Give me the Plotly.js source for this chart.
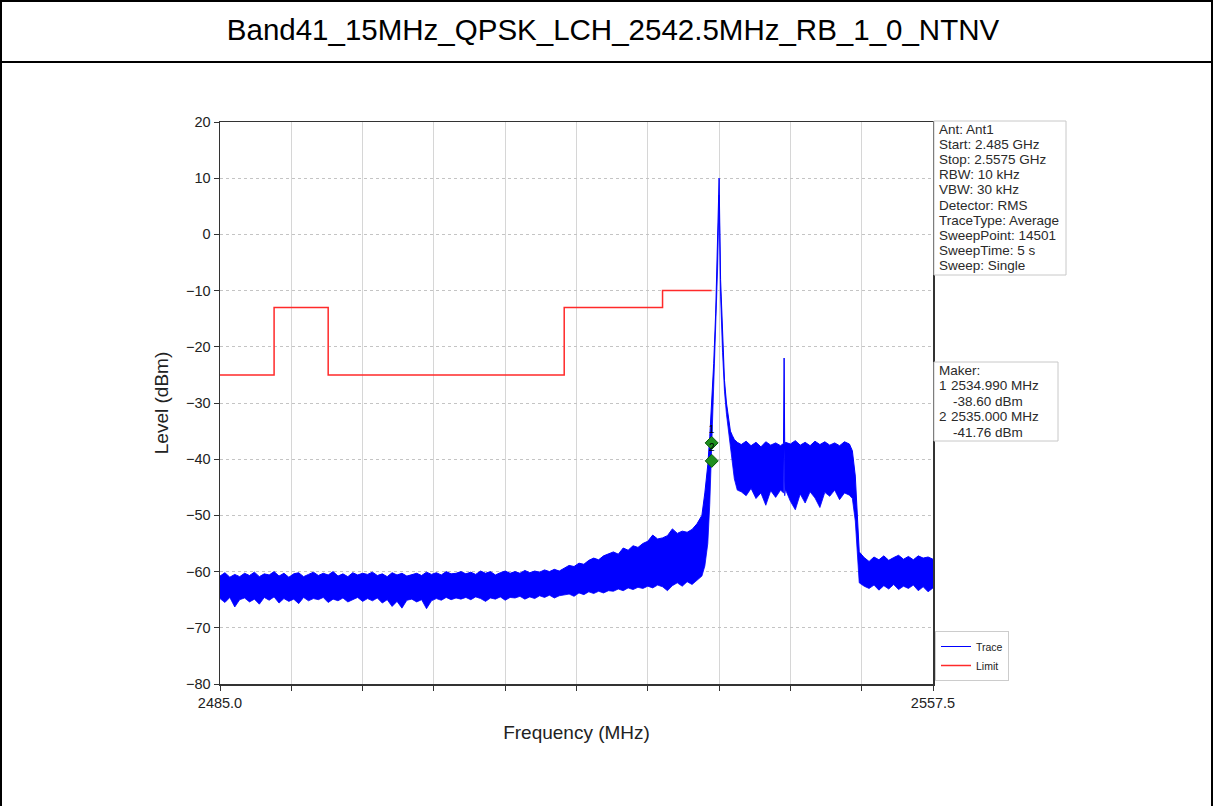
<!DOCTYPE html>
<html>
<head>
<meta charset="utf-8">
<script src="https://cdn.plot.ly/plotly-3.0.1.min.js"></script>
<style>
  html, body { margin: 0; padding: 0; background: #fff; }
  #frame { position: absolute; left: 0; top: 0; width: 1213px; height: 806px; box-sizing: border-box;
           border-left: 2px solid #000; border-right: 2px solid #000; border-top: 2px solid #000; }
  #bar { position: absolute; left: 0; top: 61px; width: 1213px; height: 0; border-top: 2px solid #000; }
  #chart { position: absolute; left: 0; top: 0; width: 1213px; height: 806px; }
</style>
</head>
<body>
<div id="frame"></div>
<div id="bar"></div>
<div id="chart"></div>
<script>
// ---------------- data ----------------
const chartTitle = "Band41_15MHz_QPSK_LCH_2542.5MHz_RB_1_0_NTNV";

// Spectrum trace, read as upper / lower envelope of the dense noise band (MHz, dBm)
const traceFreq = [
  2485.0,2485.5,2486.0,2486.5,2487.0,2487.5,2488.0,2488.5,2489.0,2489.5,
  2490.0,2490.5,2491.0,2491.5,2492.0,2492.5,2493.0,2493.5,2494.0,2494.5,
  2495.0,2495.5,2496.0,2496.5,2497.0,2497.5,2498.0,2498.5,2499.0,2499.5,
  2500.0,2500.5,2501.0,2501.5,2502.0,2502.5,2503.0,2503.5,2504.0,2504.5,
  2505.0,2505.5,2506.0,2506.5,2507.0,2507.5,2508.0,2508.5,2509.0,2509.5,
  2510.0,2510.5,2511.0,2511.5,2512.0,2512.5,2513.0,2513.5,2514.0,2514.5,
  2515.0,2515.5,2516.0,2516.5,2517.0,2517.5,2518.0,2518.5,2519.0,2519.5,
  2520.0,2520.5,2521.0,2521.5,2522.0,2522.5,2523.0,2523.5,2524.0,2524.5,
  2525.0,2525.5,2526.0,2526.5,2527.0,2527.5,2528.0,2528.5,2529.0,2529.5,
  2530.0,2530.5,2531.0,2531.5,2532.0,2532.5,2533.0,2533.5,2534.0,
  2534.3,2534.6,2534.8,2535.0,2535.2,2535.4,2535.6,2535.75,2535.9,2536.1,
  2536.3,2536.5,2536.7,2536.9,2537.1,2537.3,2537.6,
  2538.0,2538.5,2539.0,2539.5,2540.0,2540.5,2541.0,2541.5,2542.0,2542.3,
  2542.36,2542.42,2542.5,2543.0,2543.5,2544.0,2544.5,2545.0,2545.5,2546.0,
  2546.5,2547.0,2547.5,2548.0,2548.5,2549.0,2549.3,2549.6,2549.8,2550.0,
  2550.5,2551.0,2551.5,2552.0,2552.5,2553.0,2553.5,2554.0,2554.5,2555.0,
  2555.5,2556.0,2556.5,2557.0,2557.5
];
const traceUpper = [
  -60.8,-60.2,-61.0,-60.5,-60.9,-60.3,-60.7,-60.1,-60.9,-60.4,
  -60.6,-60.0,-60.8,-60.3,-61.0,-60.4,-60.2,-60.9,-60.5,-60.1,
  -60.7,-60.3,-60.6,-60.0,-60.8,-60.4,-60.9,-60.2,-60.6,-60.3,
  -60.5,-60.1,-60.7,-60.4,-60.9,-60.2,-60.6,-60.3,-60.8,-60.5,
  -60.3,-60.7,-60.1,-60.5,-60.2,-60.6,-60.0,-60.4,-60.3,-60.0,
  -60.4,-60.1,-60.5,-59.9,-60.3,-60.0,-60.6,-60.2,-59.9,-60.3,
  -60.0,-60.3,-59.8,-60.2,-59.9,-60.1,-59.7,-60.0,-59.6,-59.9,
  -59.4,-58.9,-59.1,-58.5,-58.7,-58.0,-57.6,-57.9,-57.2,-56.8,
  -56.5,-56.9,-55.8,-56.2,-55.4,-55.7,-55.0,-54.6,-53.5,-54.2,
  -54.0,-53.6,-52.4,-53.2,-52.8,-53.0,-52.5,-51.5,-50.0,
  -46.0,-41.0,-36.0,-30.0,-23.0,-14.0,-2.0,10.0,-8.0,-19.0,
  -26.0,-30.0,-33.0,-35.0,-35.8,-36.5,-37.0,
  -37.4,-36.8,-37.6,-37.0,-37.8,-36.9,-37.5,-37.1,-37.6,-37.2,
  -22.0,-37.4,-37.0,-37.3,-36.7,-37.5,-37.0,-37.6,-36.8,-37.4,
  -36.9,-37.5,-37.1,-37.6,-36.9,-37.3,-38.5,-43.0,-50.0,-56.5,
  -57.5,-58.2,-57.4,-57.9,-57.2,-58.0,-57.5,-57.1,-57.8,-57.3,
  -57.9,-57.2,-57.6,-57.4,-57.8
];
const traceLower = [
  -64.8,-65.5,-64.6,-66.3,-65.0,-64.7,-65.4,-64.9,-65.8,-64.6,
  -65.1,-64.5,-65.6,-64.8,-65.3,-64.9,-65.7,-64.6,-65.2,-64.8,
  -65.0,-64.6,-65.5,-64.9,-65.2,-64.7,-65.4,-65.0,-64.6,-65.3,
  -64.8,-65.2,-64.7,-65.6,-65.0,-66.2,-65.3,-66.5,-65.1,-64.9,
  -65.4,-65.0,-66.6,-65.2,-64.8,-65.1,-64.6,-65.0,-64.7,-64.9,
  -64.6,-65.0,-64.5,-64.8,-65.3,-64.7,-64.9,-64.5,-65.1,-64.6,
  -64.7,-64.4,-64.9,-64.5,-64.8,-64.3,-64.6,-64.2,-64.7,-64.3,
  -64.2,-64.0,-64.4,-63.8,-64.1,-63.6,-63.9,-63.5,-63.8,-63.4,
  -63.5,-63.1,-63.4,-62.9,-63.2,-62.8,-63.0,-62.6,-62.9,-62.4,
  -62.7,-63.4,-62.5,-62.0,-62.6,-61.8,-62.3,-61.5,-60.8,
  -59.0,-55.0,-48.0,-38.0,-27.0,-17.0,-6.0,7.0,-11.0,-21.0,
  -28.0,-32.0,-35.0,-38.0,-41.0,-43.5,-45.5,
  -45.8,-46.5,-45.2,-47.0,-46.0,-48.2,-45.6,-46.8,-45.5,-46.0,
  -38.0,-46.5,-45.4,-47.5,-49.0,-46.2,-47.8,-45.8,-46.9,-48.6,
  -45.9,-46.6,-45.5,-47.2,-46.0,-46.4,-47.0,-51.0,-56.0,-62.0,
  -62.6,-63.0,-62.4,-63.3,-62.5,-63.1,-62.3,-63.2,-62.6,-63.0,
  -62.4,-63.4,-62.7,-63.6,-62.9
];

// Limit line (step, value holds until next frequency)
const limitFreq  = [2485.0, 2490.5, 2496.0, 2520.0, 2530.0, 2535.0];
const limitLevel = [-25, -13, -25, -13, -10, -10];

// Markers as drawn
const markerFreq  = [2534.99, 2535.0];
const markerLevel = [-37.1, -40.3];
const markerLabel = ["1", "2"];

// Axis ticks
const xTickVals = [2485.0,2492.25,2499.5,2506.75,2514.0,2521.25,2528.5,2535.75,2543.0,2550.25,2557.5];
const xTickText = ["2485.0","","","","","","","","","","2557.5"];
const yTickVals = [20,10,0,-10,-20,-30,-40,-50,-60,-70,-80];

// Info text boxes
const infoLines = ["Ant: Ant1","Start: 2.485 GHz","Stop: 2.5575 GHz","RBW: 10 kHz","VBW: 30 kHz",
                   "Detector: RMS","TraceType: Average","SweepPoint: 14501","SweepTime: 5 s","Sweep: Single"];
const makerTitle = "Maker:";
const makerIndex = ["1", "2"];
const makerFreqText = ["2534.990 MHz", "2535.000 MHz"];
const makerLevelText = ["-38.60 dBm", "-41.76 dBm"];

// ---------------- layout helpers ----------------
const W = 1213, H = 806;
const L = 220, R = 933, T = 122, B = 684;
const px = x => (x - L) / (R - L);
const py = y => (B - y) / (B - T);
const FONT = "Liberation Sans, Arial, Helvetica, sans-serif";

const traces = [
  { x: traceFreq, y: traceUpper, type: "scatter", mode: "lines", name: "Trace",
    line: { color: "#0000ff", width: 1 }, hoverinfo: "skip" },
  { x: traceFreq, y: traceLower, type: "scatter", mode: "lines", name: "Trace",
    line: { color: "#0000ff", width: 0.8 }, fill: "tonexty", fillcolor: "#0000ff",
    showlegend: false, hoverinfo: "skip" },
  { x: limitFreq, y: limitLevel, type: "scatter", mode: "lines", name: "Limit",
    line: { color: "#ff2a2a", width: 1.5, shape: "hv" } },
  { x: markerFreq, y: markerLevel, type: "scatter", mode: "markers+text", showlegend: false,
    text: markerLabel, textposition: "top center", textfont: { size: 10, color: "#000", family: FONT },
    marker: { symbol: "diamond", size: 10, color: "#1f8f1f", line: { color: "#0b5a0b", width: 1 } } }
];

const annotations = [];
const shapes = [];
const boxFont = { family: FONT, size: 13.5, color: "#2a2a2a" };
const addText = (t, x, y) => annotations.push({ text: t, xref: "paper", yref: "paper", x: px(x), y: py(y),
    xanchor: "left", yanchor: "middle", showarrow: false, font: boxFont });
// info box
shapes.push({ type: "rect", xref: "paper", yref: "paper", x0: px(934), x1: px(1066), y0: py(275), y1: py(121),
              line: { color: "#c8c8c8", width: 1 }, fillcolor: "#fff", layer: "above" });
infoLines.forEach((t, i) => addText(t, 937, 129 + i * 15.2));
// maker box
shapes.push({ type: "rect", xref: "paper", yref: "paper", x0: px(934), x1: px(1058), y0: py(441), y1: py(362),
              line: { color: "#c8c8c8", width: 1 }, fillcolor: "#fff", layer: "above" });
addText(makerTitle, 937, 370);
makerIndex.forEach((n, i) => {
  addText(n, 937, 385.5 + i * 31);
  addText(makerFreqText[i], 949, 385.5 + i * 31);
  addText(makerLevelText[i], 951, 401 + i * 31);
});

const layout = {
  width: W, height: H,
  margin: { l: L, r: W - R, t: T, b: H - B, pad: 0 },
  paper_bgcolor: "rgba(0,0,0,0)", plot_bgcolor: "#fff",
  font: { family: FONT, color: "#000" },
  title: { text: chartTitle, font: { family: FONT, size: 29.5, color: "#000" },
           xref: "container", yref: "container", x: 613 / W, y: 1 - 30 / H, xanchor: "center", yanchor: "middle" },
  xaxis: {
    range: [2485.0, 2557.5], tickvals: xTickVals, ticktext: xTickText, ticks: "outside", ticklen: 5,
    tickcolor: "#333", showline: true, mirror: true, linecolor: "#333", linewidth: 1.5,
    showgrid: true, gridcolor: "#d6d6d6", gridwidth: 1, zeroline: false,
    tickfont: { family: FONT, size: 14.5, color: "#222" },
    title: { text: "Frequency (MHz)", font: { family: FONT, size: 19, color: "#222" }, standoff: 16 }
  },
  yaxis: {
    range: [-80, 20], tickvals: yTickVals, ticks: "outside", ticklen: 5,
    tickcolor: "#333", showline: true, mirror: true, linecolor: "#333", linewidth: 1.5,
    showgrid: true, gridcolor: "#c4c4c4", griddash: "dot", gridwidth: 1, zeroline: false,
    tickfont: { family: FONT, size: 14.5, color: "#222" },
    title: { text: "Level (dBm)", font: { family: FONT, size: 19, color: "#222" }, standoff: 12 }
  },
  legend: { x: px(935), y: py(681), xanchor: "left", yanchor: "bottom", bgcolor: "#fff", traceorder: "normal",
            bordercolor: "#cccccc", borderwidth: 1, font: { family: FONT, size: 10.5, color: "#222" },
            itemwidth: 30, tracegroupgap: 0 },
  shapes: shapes,
  annotations: annotations,
  showlegend: true
};

Plotly.newPlot("chart", traces, layout, { displayModeBar: false, staticPlot: true });
</script>
</body>
</html>
